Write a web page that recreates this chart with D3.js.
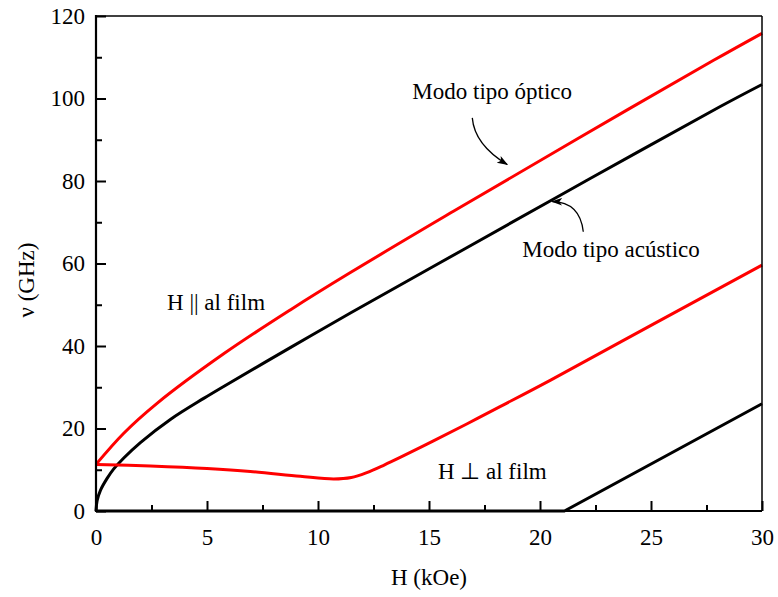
<!DOCTYPE html>
<html lang="en">
<head>
    <meta charset="UTF-8">
    <title>Modos de resonancia</title>
    <style>
        body { margin: 0; background: #fff; }
        svg text { font-family: "Liberation Serif", "Times New Roman", serif; fill: #000; }
        .curve { fill: none; stroke-width: 3px; stroke-linejoin: round; }
    </style>
    <script src="https://d3js.org/d3.v7.min.js"></script>
</head>
<body>
    <svg width="778" height="597"></svg>
    <script>
        // H (kOe) and nu (GHz)
        const hOpticPar = [0, 1.24, 2.75, 5.75, 8.75, 11.46, 16.1, 21.67, 27.8, 30];
        const vOpticPar = [11.3, 18.8, 26.1, 38.1, 48.75, 57.8, 72.65, 90.2, 109.2, 115.8];

        const hAcousticPar = [0, 0.05, 0.2, 0.5, 0.8, 1.24, 2, 3.35, 4.85, 5.75, 8.75, 11.46, 16.56, 22.26, 28.1, 30];
        const vAcousticPar = [0, 2.5, 5.0, 7.9, 10.2, 12.8, 16.6, 22.2, 27.3, 30.2, 39.6, 48.0, 63.4, 80.6, 98.0, 103.4];

        const hOpticPerp = [0, 2.45, 5, 6.95, 9.2, 10.7, 11.5, 12.2, 13.0, 13.7, 15.2, 16.7, 18.2, 20.5, 25, 30];
        const vOpticPerp = [11.3, 10.9, 10.3, 9.6, 8.4, 7.75, 8.1, 9.3, 11.2, 13.0, 17.0, 21.1, 25.3, 31.8, 45.0, 59.6];

        const hAcousticPerp = [0, 21.1, 30];
        const vAcousticPerp = [0, 0, 26.0];

        const xTicks = [0, 5, 10, 15, 20, 25, 30];
        const yTicks = [0, 20, 40, 60, 80, 100, 120];

        const width = 778;
        const height = 597;
        const margin = { left: 96, right: 16, top: 16, bottom: 86 };
        const fontFamily = "Liberation Serif, Times New Roman, serif";

        const x = d3.scaleLinear().domain([0, 30]).range([margin.left, width - margin.right]);
        const y = d3.scaleLinear().domain([0, 120]).range([height - margin.bottom, margin.top]);

        const svg = d3.select("svg");

        const defs = svg.append("defs");
        defs.append("marker")
            .attr("id", "head")
            .attr("viewBox", "0 0 10 10")
            .attr("refX", 9).attr("refY", 5)
            .attr("markerWidth", 11).attr("markerHeight", 11)
            .attr("markerUnits", "userSpaceOnUse")
            .attr("orient", "auto")
            .append("path")
            .attr("d", "M0,1.5 L10,5 L0,8.5 L2.5,5 Z")
            .attr("fill", "#000");

        const smooth = d3.line()
            .x(d => x(d[0]))
            .y(d => y(d[1]))
            .curve(d3.curveCatmullRom.alpha(0.5));
        const straight = d3.line()
            .x(d => x(d[0]))
            .y(d => y(d[1]));

        const series = [
            { h: hAcousticPerp, v: vAcousticPerp, color: "#000", line: straight },
            { h: hAcousticPar, v: vAcousticPar, color: "#000", line: smooth },
            { h: hOpticPerp, v: vOpticPerp, color: "#ff0000", line: smooth },
            { h: hOpticPar, v: vOpticPar, color: "#ff0000", line: smooth }
        ];

        svg.append("g")
            .selectAll("path")
            .data(series)
            .enter().append("path")
            .attr("class", "curve")
            .attr("stroke", d => d.color)
            .attr("d", d => d.line(d.h.map((h, i) => [h, d.v[i]])));

        // axes: ticks point inward on left and bottom
        const xAxis = d3.axisBottom(x)
            .tickValues(d3.range(0, 30.01, 2.5))
            .tickSize(-10)
            .tickFormat(d => xTicks.includes(d) ? d : "");
        const gx = svg.append("g")
            .attr("transform", `translate(0,${y(0)})`)
            .call(xAxis);
        gx.attr("font-family", fontFamily);
        gx.select(".domain").remove();
        gx.selectAll(".tick line")
            .attr("stroke-width", 2)
            .attr("y2", d => xTicks.includes(d) ? -10 : -6);
        gx.selectAll(".tick text")
            .attr("y", 18)
            .attr("dy", "0.71em")
            .style("font-size", "23px");

        const yAxis = d3.axisLeft(y)
            .tickValues(d3.range(0, 120.01, 10))
            .tickSize(-10)
            .tickFormat(d => yTicks.includes(d) ? d : "");
        const gy = svg.append("g")
            .attr("transform", `translate(${x(0)},0)`)
            .call(yAxis);
        gy.attr("font-family", fontFamily);
        gy.select(".domain").remove();
        gy.selectAll(".tick line")
            .attr("stroke-width", 2)
            .attr("x2", d => yTicks.includes(d) ? 10 : 6);
        gy.selectAll(".tick text")
            .attr("x", -11)
            .style("font-size", "23px");

        // frame
        svg.append("line")
            .attr("x1", x(0)).attr("x2", x(30)).attr("y1", y(120)).attr("y2", y(120))
            .attr("stroke", "#000").attr("stroke-width", 1.5);
        svg.append("line")
            .attr("x1", x(30)).attr("x2", x(30)).attr("y1", y(120)).attr("y2", y(0))
            .attr("stroke", "#000").attr("stroke-width", 1.5);
        svg.append("line")
            .attr("x1", x(0)).attr("x2", x(0)).attr("y1", y(120) - 1).attr("y2", y(0) + 1)
            .attr("stroke", "#000").attr("stroke-width", 2.2);
        svg.append("line")
            .attr("x1", x(0) - 1).attr("x2", x(30)).attr("y1", y(0)).attr("y2", y(0))
            .attr("stroke", "#000").attr("stroke-width", 2.2);

        // axis titles
        svg.append("text")
            .attr("x", (x(0) + x(30)) / 2)
            .attr("y", 585)
            .attr("text-anchor", "middle")
            .style("font-size", "23px")
            .text("H (kOe)");
        svg.append("text")
            .attr("transform", `translate(34,${y(56)}) rotate(-90)`)
            .attr("text-anchor", "middle")
            .style("font-size", "23px")
            .text("ν (GHz)");

        // annotations
        const notes = [
            { text: "Modo tipo óptico", h: 14.25, v: 99.8 },
            { text: "Modo tipo acústico", h: 19.2, v: 61.6 },
            { text: "H || al film", h: 3.2, v: 48.7 },
            { text: "H ⊥ al film", h: 15.4, v: 7.7 }
        ];
        svg.append("g")
            .selectAll("text")
            .data(notes)
            .enter().append("text")
            .attr("x", d => x(d.h))
            .attr("y", d => y(d.v))
            .style("font-size", "23px")
            .text(d => d.text);

        const arrows = [
            [[16.95, 95.3], [17.05, 88.8], [18.52, 84.0]],
            [[21.95, 67.7], [21.8, 74.9], [20.55, 75.0]]
        ];
        svg.append("g")
            .selectAll("path")
            .data(arrows)
            .enter().append("path")
            .attr("fill", "none")
            .attr("stroke", "#000")
            .attr("stroke-width", 1.3)
            .attr("marker-end", "url(#head)")
            .attr("d", d => `M${x(d[0][0])},${y(d[0][1])} Q${x(d[1][0])},${y(d[1][1])} ${x(d[2][0])},${y(d[2][1])}`);
    </script>
</body>
</html>
